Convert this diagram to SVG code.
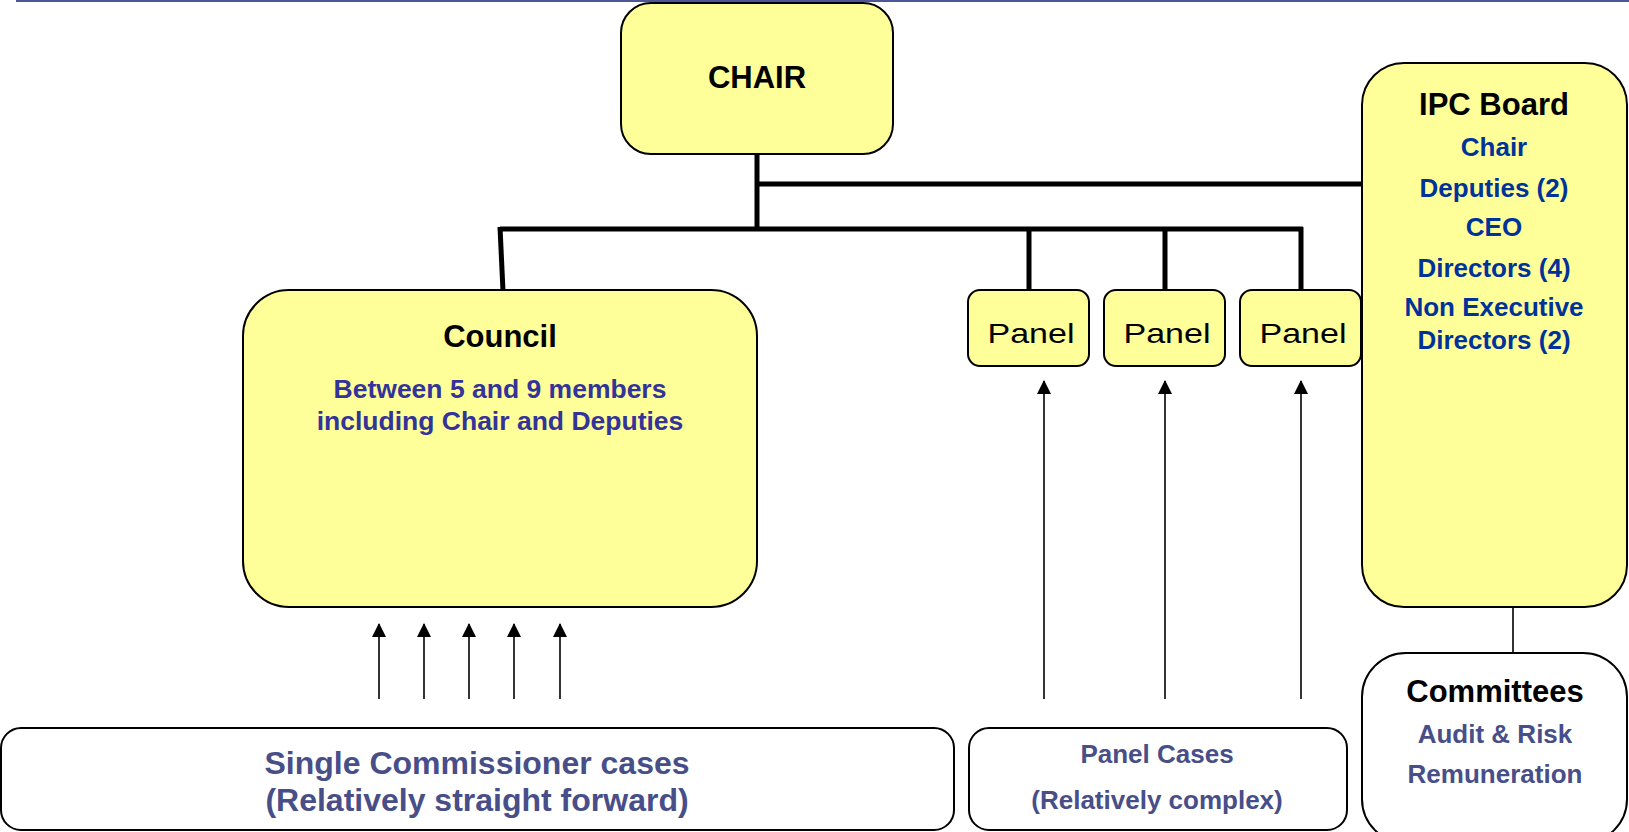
<svg xmlns="http://www.w3.org/2000/svg" width="1629" height="832" viewBox="0 0 1629 832">
<style>
.box{fill:#FFFF99;stroke:#000;stroke-width:2}
.wbox{fill:#fff;stroke:#000;stroke-width:2}
.title{font-family:"Liberation Sans",Arial,sans-serif;font-weight:bold;font-size:31px;fill:#000;text-anchor:middle}
.big{font-size:32px}
.sub{font-family:"Liberation Sans",Arial,sans-serif;font-weight:bold;font-size:26px;text-anchor:middle}
.council{fill:#333399;font-size:26.5px}
.ipc{fill:#003399}
.grey{fill:#474E88}
.panel{font-family:"Liberation Sans",Arial,sans-serif;font-size:28px;fill:#000;text-anchor:middle}
.thick{stroke:#000;stroke-width:5;fill:none}
.thin{stroke:#000;stroke-width:1.6;fill:none}
</style>
<defs>
<marker id="ah" markerWidth="15" markerHeight="14" refX="13" refY="7" orient="auto" markerUnits="userSpaceOnUse">
<path d="M0,0 L14,7 L0,14 Z" fill="#000"/>
</marker>
</defs>
<line x1="16" y1="1" x2="1629" y2="1" stroke="#4B5797" stroke-width="2"/>
<g id="connectors">
<line class="thick" x1="757" y1="153" x2="757" y2="231"/>
<line class="thick" x1="757" y1="184" x2="1362" y2="184"/>
<line class="thick" x1="500" y1="229" x2="1303" y2="229"/>
<line class="thick" x1="500" y1="227" x2="503" y2="291"/>
<line class="thick" x1="1029" y1="229" x2="1029" y2="291"/>
<line class="thick" x1="1165" y1="229" x2="1165" y2="291"/>
<line class="thick" x1="1301" y1="227" x2="1301" y2="291"/>
<line class="thin" x1="379" y1="699" x2="379" y2="624" marker-end="url(#ah)"/>
<line class="thin" x1="424" y1="699" x2="424" y2="624" marker-end="url(#ah)"/>
<line class="thin" x1="469" y1="699" x2="469" y2="624" marker-end="url(#ah)"/>
<line class="thin" x1="514" y1="699" x2="514" y2="624" marker-end="url(#ah)"/>
<line class="thin" x1="560" y1="699" x2="560" y2="624" marker-end="url(#ah)"/>
<line class="thin" x1="1044" y1="699" x2="1044" y2="381" marker-end="url(#ah)"/>
<line class="thin" x1="1165" y1="699" x2="1165" y2="381" marker-end="url(#ah)"/>
<line class="thin" x1="1301" y1="699" x2="1301" y2="381" marker-end="url(#ah)"/>
<line class="thin" x1="1513" y1="606" x2="1513" y2="653"/>
</g>
<g id="chair">
<rect class="box" x="621" y="3" width="272" height="151" rx="30"/>
<text class="title" x="757" y="88">CHAIR</text>
</g>
<g id="council">
<rect class="box" x="243" y="290" width="514" height="317" rx="46"/>
<text class="title" x="500" y="347">Council</text>
<text class="sub council" x="500" y="398">Between 5 and 9 members</text>
<text class="sub council" x="500" y="430">including Chair and Deputies</text>
</g>
<g id="panel1">
<rect class="box" x="968" y="290" width="121" height="76" rx="12"/>
<text class="panel" x="1031" y="343" textLength="87" lengthAdjust="spacingAndGlyphs">Panel</text>
</g>
<g id="panel2">
<rect class="box" x="1104" y="290" width="121" height="76" rx="12"/>
<text class="panel" x="1167" y="343" textLength="87" lengthAdjust="spacingAndGlyphs">Panel</text>
</g>
<g id="panel3">
<rect class="box" x="1240" y="290" width="121" height="76" rx="12"/>
<text class="panel" x="1303" y="343" textLength="87" lengthAdjust="spacingAndGlyphs">Panel</text>
</g>
<g id="ipc-board">
<rect class="box" x="1362" y="63" width="265" height="544" rx="42"/>
<text class="title" x="1494" y="115">IPC Board</text>
<text class="sub ipc" x="1494" y="156">Chair</text>
<text class="sub ipc" x="1494" y="197">Deputies (2)</text>
<text class="sub ipc" x="1494" y="236">CEO</text>
<text class="sub ipc" x="1494" y="277">Directors (4)</text>
<text class="sub ipc" x="1494" y="316">Non Executive</text>
<text class="sub ipc" x="1494" y="349">Directors (2)</text>
</g>
<g id="committees">
<rect class="wbox" x="1362" y="653" width="265" height="190" rx="44"/>
<text class="title" x="1495" y="702">Committees</text>
<text class="sub grey" x="1495" y="743">Audit &amp; Risk</text>
<text class="sub grey" x="1495" y="783">Remuneration</text>
</g>
<g id="single-commissioner">
<rect class="wbox" x="1" y="728" width="953" height="102" rx="20"/>
<text class="title big grey" x="477" y="774">Single Commissioner cases</text>
<text class="title big grey" x="477" y="811">(Relatively straight forward)</text>
</g>
<g id="panel-cases">
<rect class="wbox" x="969" y="728" width="378" height="102" rx="20"/>
<text class="sub grey" x="1157" y="763">Panel Cases</text>
<text class="sub grey" x="1157" y="809">(Relatively complex)</text>
</g>
</svg>
